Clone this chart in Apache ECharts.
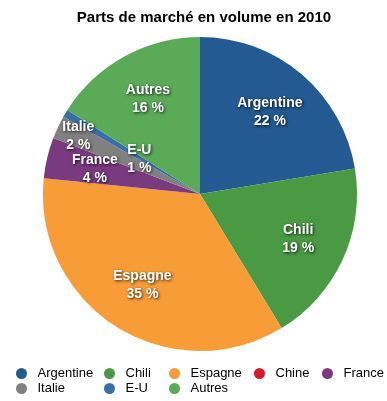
<!DOCTYPE html>
<html>
<head>
<meta charset="utf-8">
<script src="https://cdn.jsdelivr.net/npm/echarts@6/dist/echarts.min.js"></script>
<style>html,body{margin:0;padding:0;background:#fff}#c{width:387px;height:401px}</style>
</head>
<body>
<div id="c"></div>
<script>
const titleText = 'Parts de marché en volume en 2010';
const categories = ['Argentine', 'Chili', 'Espagne', 'Chine', 'France', 'Italie', 'E-U', 'Autres'];
const shares = [22.4, 18.9, 35.3, 0, 4.2, 2.4, 0.8, 16.0];
const labels = ['22 %', '19 %', '35 %', '', '4 %', '2 %', '1 %', '16 %'];
const colors = ['#225a91', '#4a9a44', '#f89c38', '#d8182c', '#7a3a80', '#808080', '#3a6ea8', '#5aaa58'];
const legendColumns = [['Argentine', 'Italie'], ['Chili', 'E-U'], ['Espagne', 'Autres'], ['Chine'], ['France']];
const legendLefts = [11, 99, 164, 249, 317];

const FONT = '"Liberation Sans", Arial, Helvetica, sans-serif';
const data = categories.map((n, i) => ({ name: n, value: shares[i] }));

const chart = echarts.init(document.getElementById('c'), null, { renderer: 'canvas' });
chart.setOption({
  animation: false,
  color: colors,
  title: {
    text: titleText, left: 199, textAlign: 'center', top: 5,
    textStyle: { fontFamily: FONT, fontSize: 15, fontWeight: 'bold', color: '#000' }
  },
  legend: legendColumns.map((col, k) => ({
    data: col, orient: 'vertical', left: legendLefts[k], top: 362,
    icon: 'circle', itemWidth: 22, itemHeight: 11, itemGap: 2,
    selectedMode: false,
    textStyle: { fontFamily: FONT, fontSize: 13, color: '#000' }
  })),
  series: [
    {
      type: 'pie', center: [200, 194], radius: 157, startAngle: 90,
      silent: true, data: data,
      itemStyle: { borderWidth: 0 },
      label: { show: false }, labelLine: { show: false }
    },
    {
      type: 'pie', center: [200, 194], radius: 210, startAngle: 90,
      silent: true, data: data, legendHoverLink: false,
      itemStyle: { color: 'rgba(0,0,0,0)', borderWidth: 0 },
      label: {
        show: true, position: 'inside',
        formatter: p => labels[p.dataIndex] ? p.name + '\n' + labels[p.dataIndex] : '',
        fontFamily: FONT, fontSize: 14, fontWeight: 'bold', color: '#fff', lineHeight: 18,
        textShadowColor: 'rgba(0,0,0,0.8)', textShadowBlur: 3, textShadowOffsetX: 1, textShadowOffsetY: 1
      },
      labelLine: { show: false },
      labelLayout: p => {
        const n = categories[p.dataIndex];
        if (n === 'Italie') return { dx: -24, dy: -12 };
        if (n === 'E-U') return { dx: 32, dy: 21 };
        return {};
      }
    }
  ]
});
</script>
</body>
</html>
